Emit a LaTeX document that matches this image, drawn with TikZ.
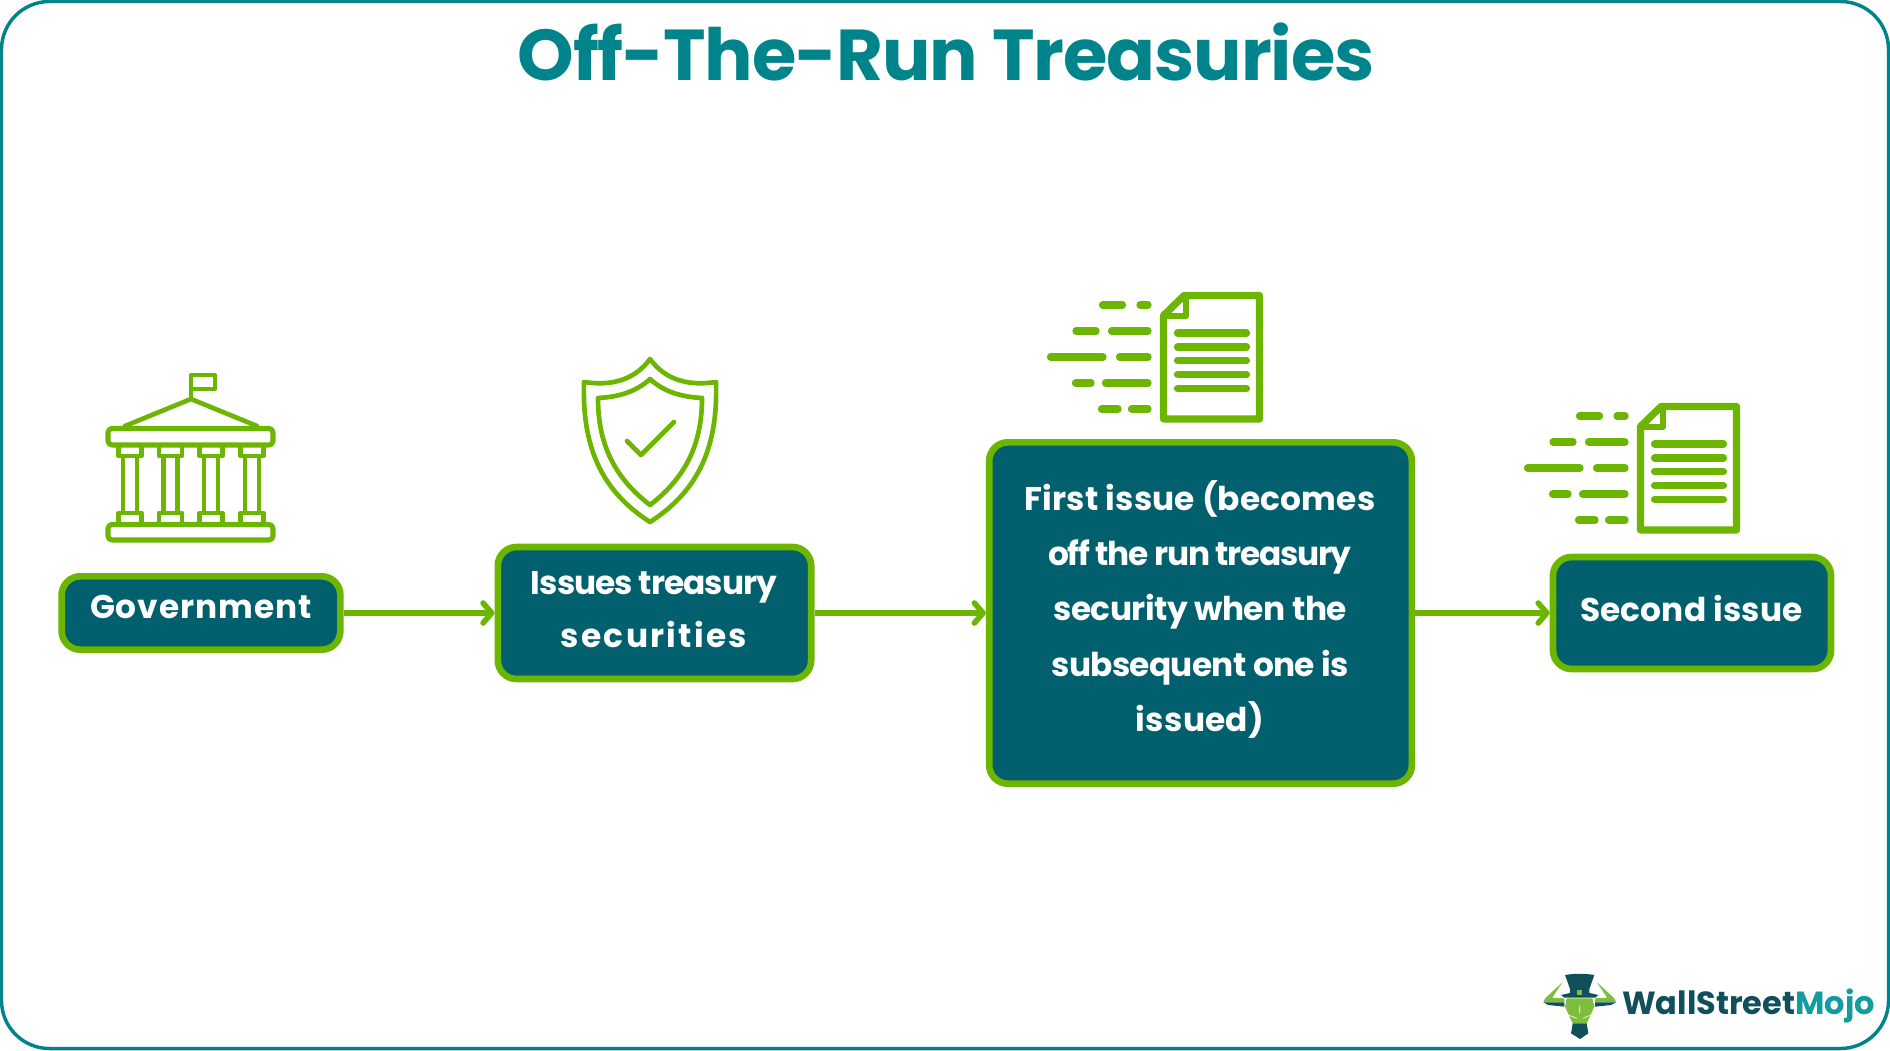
\documentclass[tikz,border=0pt]{standalone}
\usepackage{fontspec}
\usetikzlibrary{arrows.meta}
\newfontfamily\boldfont{Poppins Bold}
\definecolor{framecol}{RGB}{0,132,139}
\definecolor{boxgreen}{RGB}{108,181,0}
\definecolor{boxteal}{RGB}{2,96,110}
\definecolor{logodark}{RGB}{15,80,90}
\definecolor{logomojo}{RGB}{20,155,158}
\definecolor{logolime}{RGB}{125,190,60}
\newcommand{\track}[2]{{\addfontfeature{LetterSpace=#1}#2}}
\tikzset{
  stepnode/.style={draw=boxgreen,fill=boxteal,line width=5pt,rounded corners=14pt,inner sep=0pt},
  steptext/.style={text=white,align=center,inner sep=0pt,font=\boldfont\fontsize{24.6}{41.5}\selectfont},
  flowarrow/.style={draw=boxgreen,line width=4.2pt,-{Straight Barb[length=6.5pt,width=15pt,round]}},
  iconline/.style={draw=boxgreen,line width=3.8pt,line join=round,line cap=round},
  thinline/.style={draw=boxgreen,line width=3.5pt,line join=round,line cap=round},
  dashbar/.style={draw=boxgreen,line width=5.4pt,line cap=round},
  docicon/.pic={
    \draw [dashbar] (1177.5,333)--(1246.5,333) (1177.5,347)--(1246.5,347) (1177.5,360.5)--(1246.5,360.5) (1177.5,374.5)--(1246.5,374.5) (1177.5,388.5)--(1246.5,388.5);
    \draw [draw=boxgreen,line width=5.4pt,line join=round] (1163.5,315.5) -- (1184,295.5) -- (1259.5,295.5) -- (1259.5,419) -- (1163.5,419) -- cycle;
    \draw [draw=boxgreen,line width=4.5pt,line join=round] (1163.5,316) -- (1186,316) -- (1186,295.5);
    \draw [dashbar] (1102.5,305)--(1122.5,305) (1140,305)--(1148,305);
    \draw [dashbar] (1076,331)--(1096,331) (1111.5,331)--(1148,331);
    \draw [dashbar] (1050.5,357)--(1103,357) (1119.5,357)--(1148,357);
    \draw [dashbar] (1075.5,383)--(1091,383) (1105.5,383)--(1148,383);
    \draw [dashbar] (1101.5,409)--(1118,409) (1131.5,409)--(1148,409);
  }
}
\begin{document}
\begin{tikzpicture}[x=0.75pt,y=0.75pt,yscale=-1,xscale=1]
\useasboundingbox (0,0) rectangle (1890,1050);

%Frame
\draw [framecol,line width=2.6pt,rounded corners=36pt] (1.5,1.5) rectangle (1888.5,1048.5);

% Text Node
\node (title) at (946,52) [text=framecol,font=\boldfont\fontsize{54}{60}\selectfont] {\track{-1.5}{Off-The-Run Treasuries}};

%Boxes
\node (gov) at (201,613) [stepnode,minimum width=209pt,minimum height=55pt] {};
\node (issues) at (654.5,613) [stepnode,minimum width=235pt,minimum height=99pt] {};
\node (first) at (1200.5,613) [stepnode,minimum width=317pt,minimum height=256pt] {};
\node (second) at (1692,613) [stepnode,minimum width=208.5pt,minimum height=84pt] {};

% Text Node
\node (govtext) at (201,607) [steptext] {\track{3}{Government}};
\node (issuestext) at (654,609.4) [steptext,font=\boldfont\fontsize{24.6}{40}\selectfont] {\track{-3}{Issues treasury}\\\track{7}{securities}};
\node (firsttext) at (1200,609.4) [steptext] {\track{0.5}{First issue (becomes}\\\track{-4}{off the run treasury}\\\track{-1.5}{security when the}\\\track{-2}{subsequent one is}\\\track{1}{issued)}};
\node (secondtext) at (1691.5,608.4) [steptext] {\track{0.5}{Second issue}};

%Arrows
\draw [flowarrow] (gov) -- (issues);
\draw [flowarrow] (issues) -- (first);
\draw [flowarrow] (first) -- (second);

%Building
\draw [thinline] (191,399) -- (191,375) -- (215,375) -- (215,389) -- (191,389);
\draw [thinline] (125,426) -- (191,399) -- (257,426);
\draw [iconline,rounded corners=3pt] (108,428.5) rectangle (273,445);
\draw [iconline,rounded corners=3pt] (108,524.5) rectangle (273,540);
\foreach \colx in {130,170.5,211,252}{
  \draw [thinline] (\colx-11.5,447) -- (\colx-11.5,456) -- (\colx+11.5,456) -- (\colx+11.5,447);
  \draw [thinline] (\colx-11.5,522) -- (\colx-11.5,513) -- (\colx+11.5,513) -- (\colx+11.5,522);
  \draw [thinline] (\colx-7,456) -- (\colx-7,513) (\colx+7,456) -- (\colx+7,513);
}

%Shield
\draw [thinline] (650,359) .. controls (634,381) and (610,386) .. (584,382) .. controls (582,445) and (600,490) .. (650,522) .. controls (700,490) and (718,445) .. (716,382) .. controls (690,386) and (666,381) .. (650,359) -- cycle;
\draw [thinline] (650,379) .. controls (636,392) and (618,397) .. (598,398) .. controls (598,445) and (615,478) .. (650,505) .. controls (685,478) and (702,445) .. (702,398) .. controls (682,397) and (664,392) .. (650,379) -- cycle;
\draw [thinline] (627,441) -- (641,455) -- (674,422);

%Documents
\pic [transform shape] at (0,0) {docicon};
\pic [transform shape] at (477,111) {docicon};

%Logo
\begin{scope}[shift={(1535,965)},x=0.25pt,y=0.25pt]
  \foreach \hs in {1,-1}{
    \fill [logolime] (134-\hs*52,52) -- (134-\hs*104,100) -- (134-\hs*109,112) -- (134-\hs*46,112) -- (134-\hs*46,100) -- (134-\hs*82,98) -- cycle;
    \fill [logodark] (134-\hs*109,112) -- (134-\hs*94,120) -- (134-\hs*46,125) -- (134-\hs*46,112) -- cycle;
  }
  \fill [logolime] (95,100) -- (172,100) -- (178,125) -- (155,175) -- (113,175) -- (90,125) -- cycle;
  \fill [logodark] (113,175) -- (155,175) -- (160,205) -- (135,222) -- (108,205) -- cycle;
  \draw [white,line width=0.5pt] (134,122) -- (134,145) (100,150) -- (125,160) (168,150) -- (143,160);
  \fill [logodark] (90,30) .. controls (120,25) and (150,25) .. (178,30) -- (163,72) -- (163,84) -- (190,90) -- (180,98) -- (88,98) -- (78,90) -- (105,84) -- (105,72) -- cycle;
  \fill [logolime] (125,75) rectangle (142,90);
\end{scope}
\node (logotext) at (1748.5,1006) [font=\boldfont\fontsize{24}{28}\selectfont,text=logodark] {\track{0}{WallStreet}\textcolor{logomojo}{\track{0}{Mojo}}};
\end{tikzpicture}
\end{document}
